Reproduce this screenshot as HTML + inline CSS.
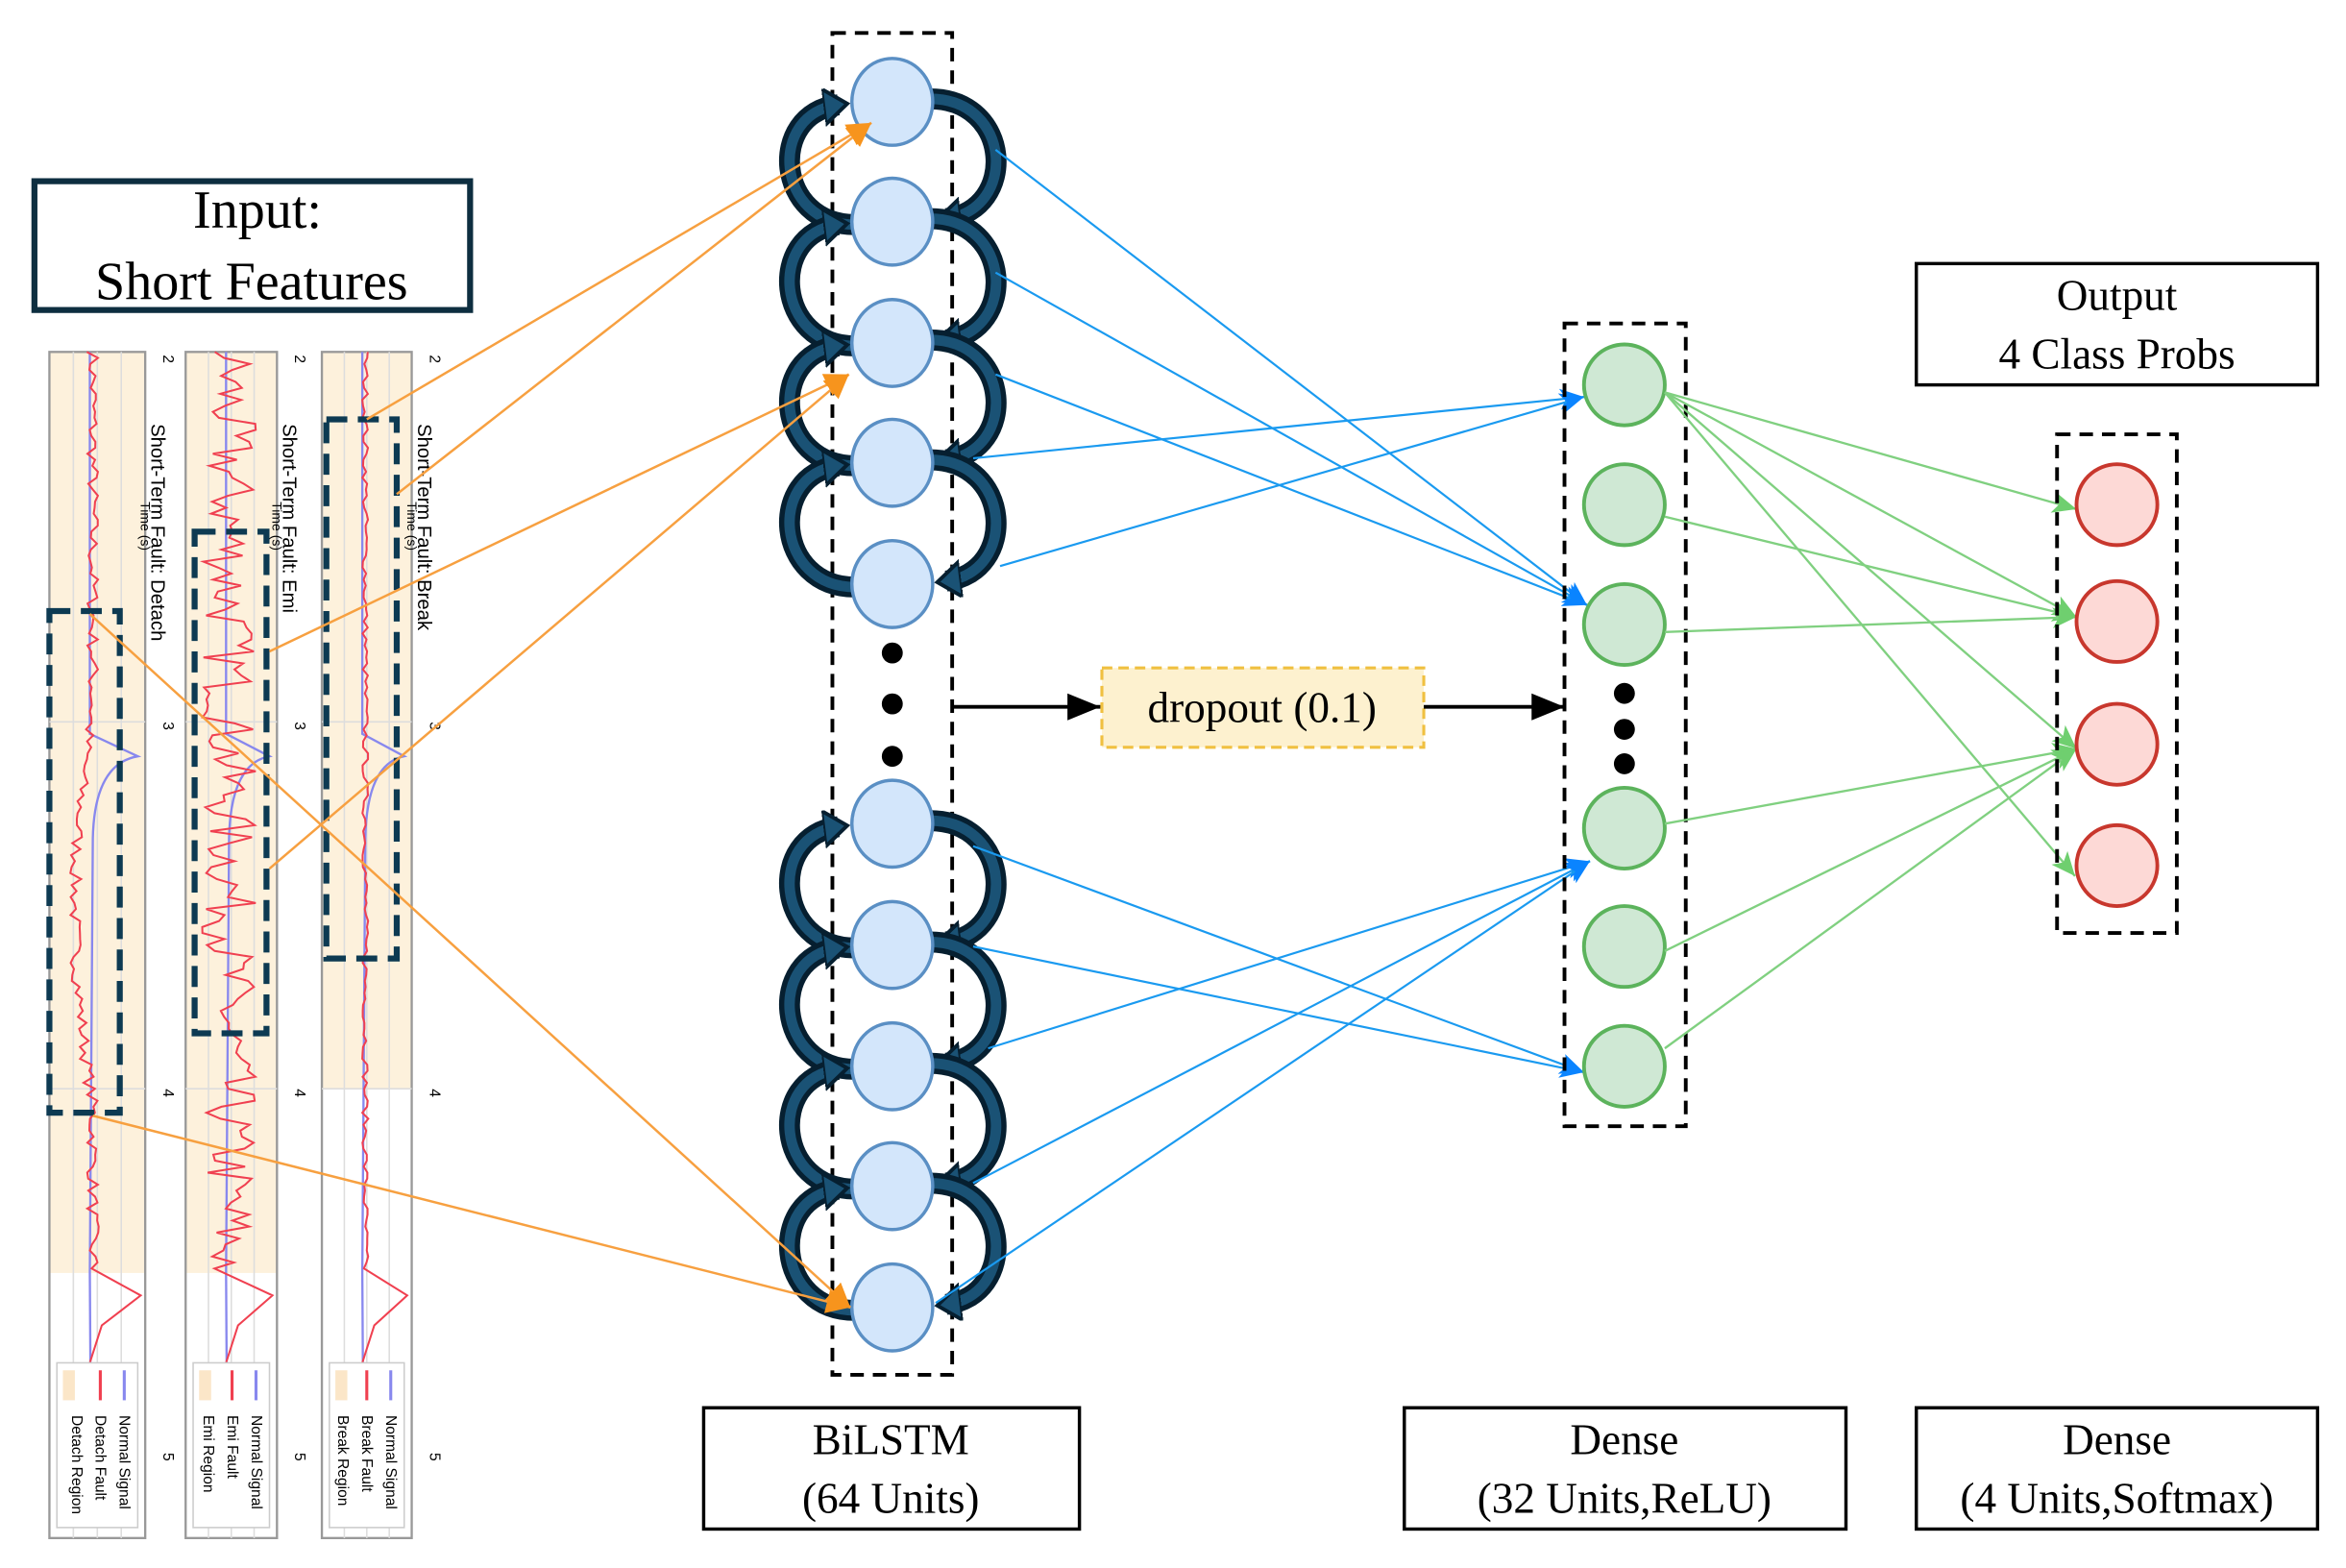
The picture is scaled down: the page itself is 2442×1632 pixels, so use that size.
<!DOCTYPE html>
<html><head><meta charset="utf-8"><style>
html,body{margin:0;padding:0;background:#fff;}
svg{display:block;}
</style></head><body>
<svg id="s" width="2442" height="1632" viewBox="0 0 1567 1047" preserveAspectRatio="none" xmlns="http://www.w3.org/2000/svg" font-family="Liberation Serif, serif">
<defs>
<marker id="ao" markerUnits="userSpaceOnUse" markerWidth="20" markerHeight="20" refX="16" refY="8" orient="auto"><path d="M0,0 L16,8 L0,16 z" fill="#f7941d"/></marker>
<marker id="ab" markerUnits="userSpaceOnUse" markerWidth="20" markerHeight="20" refX="16" refY="7" orient="auto"><path d="M0,0 L16,7 L0,14 L4,7 z" fill="#0a84ff"/></marker>
<marker id="ag" markerUnits="userSpaceOnUse" markerWidth="20" markerHeight="20" refX="16" refY="7" orient="auto"><path d="M0,0 L16,7 L0,14 L4,7 z" fill="#6fcf6f"/></marker>
<marker id="ak" markerUnits="userSpaceOnUse" markerWidth="26" markerHeight="20" refX="22" refY="9" orient="auto"><path d="M0,0 L22,9 L0,18 z" fill="#000"/></marker>
<marker id="an" markerUnits="userSpaceOnUse" markerWidth="30" markerHeight="30" refX="10" refY="12" orient="auto"><path d="M0,0 L16,12 L0,24 z" fill="#1a5275" stroke="#061f30" stroke-width="2.5"/></marker>
</defs>

<rect x="23" y="121" width="291" height="86" fill="#fff" stroke="#0d2e40" stroke-width="4"/>
<text x="172" y="152" font-size="36" text-anchor="middle">Input:</text>
<text x="168" y="200" font-size="36" text-anchor="middle">Short Features</text>

<g id="plots"></g>

<rect x="556" y="22" width="80" height="896" fill="none" stroke="#000" stroke-width="2.5" stroke-dasharray="9,6"/>
<g id="loops"></g>
<g id="bil"></g>
<circle cx="596" cy="436" r="7"/><circle cx="596" cy="470" r="7"/><circle cx="596" cy="505" r="7"/>

<g stroke="#f7a040" stroke-width="1.6" fill="none">
<line x1="245" y1="280" x2="582" y2="82" marker-end="url(#ao)"/>
<line x1="265" y1="330" x2="582" y2="82" marker-end="url(#ao)"/>
<line x1="180" y1="435" x2="567" y2="250" marker-end="url(#ao)"/>
<line x1="180" y1="580" x2="567" y2="250" marker-end="url(#ao)"/>
<line x1="60" y1="410" x2="568" y2="873" marker-end="url(#ao)"/>
<line x1="62" y1="745" x2="568" y2="873" marker-end="url(#ao)"/>
</g>

<g stroke="#1a9af0" stroke-width="1.4" fill="none" marker-end="url(#ab)">
<line x1="665" y1="100" x2="1060" y2="404"/>
<line x1="665" y1="182" x2="1060" y2="404"/>
<line x1="665" y1="250" x2="1060" y2="404"/>
<line x1="650" y1="306" x2="1058" y2="265"/>
<line x1="668" y1="378" x2="1058" y2="265"/>
<line x1="650" y1="565" x2="1058" y2="716"/>
<line x1="650" y1="632" x2="1058" y2="716"/>
<line x1="660" y1="700" x2="1062" y2="575"/>
<line x1="650" y1="790" x2="1062" y2="575"/>
<line x1="625" y1="870" x2="1062" y2="575"/>
</g>

<line x1="636" y1="472" x2="735" y2="472" stroke="#000" stroke-width="2.5" marker-end="url(#ak)"/>
<rect x="736" y="446" width="215" height="53" fill="#fdf1cf" stroke="#f0c040" stroke-width="2" stroke-dasharray="7,4"/>
<text x="843" y="482" font-size="29" text-anchor="middle">dropout (0.1)</text>
<line x1="951" y1="472" x2="1045" y2="472" stroke="#000" stroke-width="2.5" marker-end="url(#ak)"/>

<rect x="1045" y="216" width="81" height="536" fill="none" stroke="#000" stroke-width="2.5" stroke-dasharray="9,6"/>
<g fill="#cfe8d4" stroke="#5cb35c" stroke-width="2.5">
<circle cx="1085" cy="257" r="27"/><circle cx="1085" cy="337" r="27"/><circle cx="1085" cy="417" r="27"/>
<circle cx="1085" cy="553" r="27"/><circle cx="1085" cy="632" r="27"/><circle cx="1085" cy="712" r="27"/>
</g>
<circle cx="1085" cy="463" r="7"/><circle cx="1085" cy="487" r="7"/><circle cx="1085" cy="510" r="7"/>

<g stroke="#80d080" stroke-width="1.5" fill="none" marker-end="url(#ag)">
<line x1="1112" y1="262" x2="1387" y2="340"/>
<line x1="1112" y1="262" x2="1387" y2="412"/>
<line x1="1112" y1="262" x2="1387" y2="500"/>
<line x1="1112" y1="262" x2="1386" y2="585"/>
<line x1="1112" y1="345" x2="1387" y2="412"/>
<line x1="1112" y1="422" x2="1387" y2="412"/>
<line x1="1112" y1="550" x2="1387" y2="500"/>
<line x1="1112" y1="635" x2="1387" y2="500"/>
<line x1="1112" y1="700" x2="1387" y2="500"/>
</g>

<rect x="1374" y="290" width="80" height="333" fill="none" stroke="#000" stroke-width="2.5" stroke-dasharray="9,6"/>
<g fill="#fdd9d6" stroke="#c8372d" stroke-width="2.5">
<circle cx="1414" cy="337" r="27"/><circle cx="1414" cy="415" r="27"/><circle cx="1414" cy="497" r="27"/><circle cx="1414" cy="578" r="27"/>
</g>

<g fill="#fff" stroke="#000" stroke-width="2.2">
<rect x="1280" y="176" width="268" height="81"/>
<rect x="470" y="940" width="251" height="81"/>
<rect x="938" y="940" width="295" height="81"/>
<rect x="1280" y="940" width="268" height="81"/>
</g>
<g font-size="29" text-anchor="middle">
<text x="1414" y="207">Output</text><text x="1414" y="246">4 Class Probs</text>
<text x="595" y="971">BiLSTM</text><text x="595" y="1010">(64 Units)</text>
<text x="1085" y="971">Dense</text><text x="1085" y="1010">(32 Units,ReLU)</text>
<text x="1414" y="971">Dense</text><text x="1414" y="1010">(4 Units,Softmax)</text>
</g>
</svg>
<script>
(function(){
var NS="http://www.w3.org/2000/svg";
function el(p,t,a,txt){var e=document.createElementNS(NS,t);for(var k in a)e.setAttribute(k,a[k]);if(txt)e.textContent=txt;p.appendChild(e);return e;}
var ys=[68,148,229,309,390,550,631,712,792,873];
var bil=document.getElementById('bil'),loops=document.getElementById('loops');
ys.forEach(function(y){el(bil,'ellipse',{cx:596,cy:y,rx:27,ry:29,fill:'#d3e6fb',stroke:'#5a8fc4','stroke-width':2.2});});
function pairs(a){for(var i=0;i<a.length-1;i++){var y1=ys[a[i]],y2=ys[a[i+1]];
 var dl="M571,"+(y2+2)+" C518,"+(y2+2)+" 512,"+(y1+8)+" 560,"+(y1+2);
 el(loops,'path',{d:dl,fill:'none',stroke:'#061f30','stroke-width':14});
 el(loops,'path',{d:dl,fill:'none',stroke:'#1a5275','stroke-width':7,'marker-end':'url(#an)'});
 var dr="M621,"+(y1-2)+" C676,"+(y1-2)+" 680,"+(y2-8)+" 632,"+(y2-2);
 el(loops,'path',{d:dr,fill:'none',stroke:'#061f30','stroke-width':14});
 el(loops,'path',{d:dr,fill:'none',stroke:'#1a5275','stroke-width':7,'marker-end':'url(#an)'});
}}
pairs([0,1,2,3,4]);pairs([5,6,7,8,9]);
var g=document.getElementById('plots');
var seed=7;function r(){seed=(seed*16807)%2147483647;return seed/2147483647;}
var strips=[{x:33,w:64,sh:850,title:"Short-Term Fault: Detach",bx:[33,80,408,743],leg:["Normal Signal","Detach Fault","Detach Region"],noise:4},
 {x:124,w:61,sh:850,title:"Short-Term Fault: Emi",bx:[130,178,355,690],leg:["Normal Signal","Emi Fault","Emi Region"],noise:18},
 {x:215,w:60,sh:727,title:"Short-Term Fault: Break",bx:[218,265,280,640],leg:["Normal Signal","Break Fault","Break Region"],noise:2}];
strips.forEach(function(s,i){
 el(g,'rect',{x:s.x,y:235,width:s.w,height:s.sh-235,fill:'#fdf1dc'});
 el(g,'rect',{x:s.x,y:235,width:s.w,height:792,fill:'none',stroke:'#999','stroke-width':1.5});
 [0.25,0.5,0.75].forEach(function(f){el(g,'line',{x1:s.x+s.w*f,y1:235,x2:s.x+s.w*f,y2:1027,stroke:'#ddd','stroke-width':1});});
 [482,727].forEach(function(y){el(g,'line',{x1:s.x,y1:y,x2:s.x+s.w,y2:y,stroke:'#ddd','stroke-width':1});});
 var pb="M"+(s.x+27)+",235 L"+(s.x+27)+",490 L"+(s.x+s.w-5)+",505 Q"+(s.x+30)+",510 "+(s.x+29)+",560 L"+(s.x+27)+",850 L"+(s.x+28)+",1010";
 el(g,'path',{d:pb,fill:'none',stroke:'#8888ee','stroke-width':1.5});
 var pts=[],cx=s.x+29;
 for(var y=235;y<=850;y+=4){var off=(r()-0.5)*2*s.noise;if(i==0&&y>470&&y<740)off-=12*Math.sin((y-470)/270*Math.PI);pts.push((cx+off).toFixed(1)+","+y);}
 pts.push((s.x+s.w-3)+",865");pts.push((s.x+35)+",885");pts.push((s.x+27)+",910");
 el(g,'polyline',{points:pts.join(" "),fill:'none',stroke:'#f04050','stroke-width':1.3});
 el(g,'rect',{x:s.x+5,y:910,width:s.w-10,height:110,fill:'#fff',stroke:'#ccc','stroke-width':1});
 el(g,'line',{x1:s.x+s.w-14,y1:915,x2:s.x+s.w-14,y2:935,stroke:'#8888ee','stroke-width':2});
 el(g,'line',{x1:s.x+s.w-30,y1:915,x2:s.x+s.w-30,y2:935,stroke:'#f04050','stroke-width':2});
 el(g,'rect',{x:s.x+9,y:915,width:8,height:20,fill:'#fbe6c8'});
 s.leg.forEach(function(t,k){var tx=s.x+s.w-17-16*k;el(g,'text',{x:tx,y:945,'font-size':10,'font-family':'Liberation Sans, sans-serif',transform:'rotate(90 '+tx+' 945)'},t);});
 [["2",237],["3",482],["4",727],["5",970]].forEach(function(t){var tx=s.x+s.w+12;el(g,'text',{x:tx,y:t[1],'font-size':10,'font-family':'Liberation Sans, sans-serif',transform:'rotate(90 '+tx+' '+t[1]+')'},t[0]);});
 var tx=s.x+s.w+4;
 el(g,'text',{x:tx,y:283,'font-size':13,'font-family':'Liberation Sans, sans-serif',transform:'rotate(90 '+tx+' 283)'},s.title);
 el(g,'text',{x:tx-7,y:335,'font-size':9,'font-family':'Liberation Sans, sans-serif',transform:'rotate(90 '+(tx-7)+' 335)'},"Time (s)");
 var b=s.bx;
 el(g,'rect',{x:b[0],y:b[2],width:b[1]-b[0],height:b[3]-b[2],fill:'none',stroke:'#0d3a52','stroke-width':4,'stroke-dasharray':'14,7'});
});
})();
</script>
</body></html>
